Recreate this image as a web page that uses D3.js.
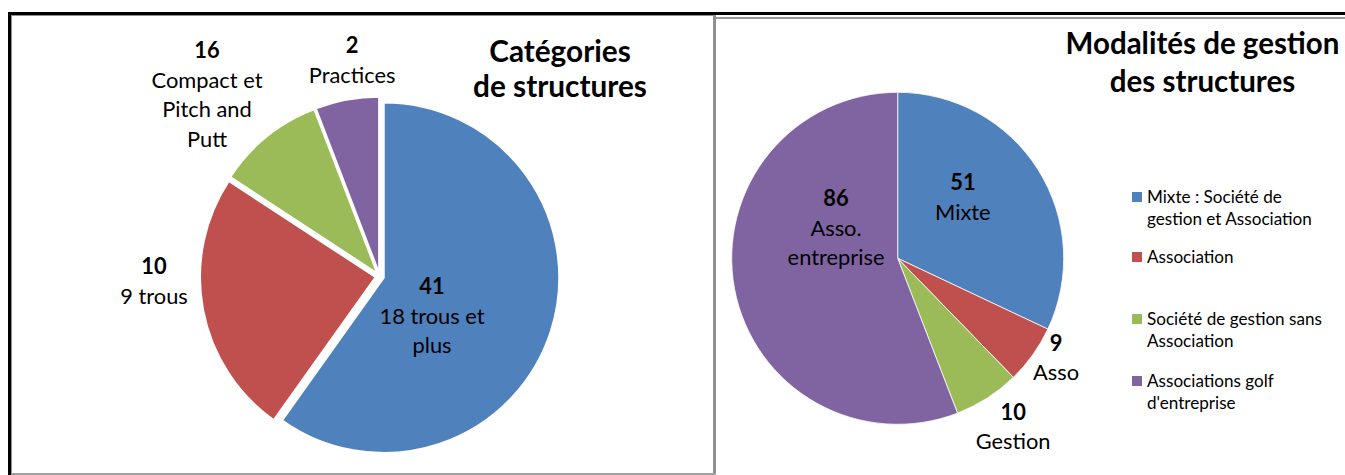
<!DOCTYPE html>
<html><head><meta charset="utf-8">
<script src="https://cdn.jsdelivr.net/npm/d3@7"></script>
<style>
body{margin:0;background:#fff;overflow:hidden}
text{font-family:Lato,"Open Sans",sans-serif;fill:#000}
</style>
</head><body>
<svg id="c" width="1345" height="475"></svg>
<script>
// ---------- DATA ----------
const leftTitle = ["Catégories", "de structures"];
const leftCategories = ["18 trous et plus", "9 trous", "Compact et Pitch and Putt", "Practices"];
const leftValues = [41, 16.7, 6.8, 4];            // slice sizes as drawn
const leftLabelNumbers = ["41", "10", "16", "2"]; // numbers printed on the labels
const leftLabelLines = [["18 trous et", "plus"], ["9 trous"], ["Compact et", "Pitch and", "Putt"], ["Practices"]];

const rightTitle = ["Modalités de gestion", "des structures"];
const rightCategories = ["Mixte : Société de gestion et Association", "Association", "Société de gestion sans Association", "Associations golf d'entreprise"];
const rightValues = [51, 9.1, 10.2, 89];          // slice sizes as drawn
const rightLabelNumbers = ["51", "9", "10", "86"];
const rightLabelLines = [["Mixte"], ["Asso"], ["Gestion"], ["Asso.", "entreprise"]];
const legendLines = [["Mixte : Société de", "gestion et Association"], ["Association"], ["Société de gestion sans", "Association"], ["Associations golf", "d'entreprise"]];

const colors = ["#4F81BD", "#C0504D", "#9BBB59", "#8064A2"];

// ---------- LAYOUT ----------
const svg = d3.select("#c");

function fitSize(str, weight, target) {
  const t = svg.append("text").attr("font-size", 100).attr("font-weight", weight).text(str);
  const w = t.node().getComputedTextLength();
  t.remove();
  return 100 * target / w;
}
const titleSizeL = fitSize("de structures", "bold", 174);
const titleSizeR = fitSize("Modalités de gestion", "bold", 274);
const labelSize = fitSize("Compact et", "normal", 111);
const legendSize = fitSize("gestion et Association", "normal", 165);

// frames
const grey = "#8f8f8f";
svg.append("line").attr("x1", 11.5).attr("x2", 11.5).attr("y1", 15).attr("y2", 475).attr("stroke", grey).attr("stroke-width", 1);
svg.append("line").attr("x1", 11).attr("x2", 716).attr("y1", 15.5).attr("y2", 15.5).attr("stroke", grey).attr("stroke-width", 1);
svg.append("rect").attr("x", 713).attr("y", 15).attr("width", 3).attr("height", 460).attr("fill", grey);
svg.append("rect").attr("x", 11).attr("y", 473).attr("width", 705).attr("height", 2).attr("fill", "#a0a0a0");
svg.append("rect").attr("x", 716).attr("y", 17).attr("width", 629).attr("height", 2).attr("fill", "#9a9a9a");
svg.append("rect").attr("x", 8).attr("y", 12).attr("width", 1337).attr("height", 3).attr("fill", "#000");
svg.append("rect").attr("x", 8).attr("y", 12).attr("width", 3).attr("height", 463).attr("fill", "#000");

function drawPie(opts) {
  const {cx, cy, R, values, explode, stroke, labelPolar, numbers, lines} = opts;
  const pie = d3.pie().sort(null).startAngle(0).endAngle(2 * Math.PI);
  const arcs = pie(values);
  const arc = d3.arc().innerRadius(0).outerRadius(R);
  const g = svg.append("g").attr("transform", `translate(${cx},${cy})`);
  g.selectAll("path").data(arcs).join("path")
    .attr("d", arc)
    .attr("fill", (d, i) => colors[i])
    .attr("stroke", "#fff")
    .attr("stroke-width", stroke)
    .attr("stroke-linejoin", "miter")
    .attr("transform", d => {
      const m = (d.startAngle + d.endAngle) / 2;
      return `translate(${explode * Math.sin(m)},${-explode * Math.cos(m)})`;
    });
  const ls = 29.5;
  arcs.forEach((d, i) => {
    const [angDeg, rf] = labelPolar[i];
    const a = angDeg * Math.PI / 180;
    const x = rf * R * Math.sin(a), y = -rf * R * Math.cos(a);
    const rows = [numbers[i]].concat(lines[i]);
    const y0 = y - (rows.length - 1) / 2 * ls;
    const t = g.append("text").attr("text-anchor", "middle").attr("font-size", labelSize);
    rows.forEach((r, k) => {
      t.append("tspan").attr("x", x).attr("y", y0 + k * ls).attr("dy", "0.35em")
        .attr("font-weight", k === 0 ? "bold" : "normal").text(r);
    });
  });
}

drawPie({
  cx: 379.7, cy: 276.4, R: 175, values: leftValues, explode: 4.5, stroke: 1.5,
  labelPolar: [[127.1, 0.375], [268.8, 1.29], [316.4, 1.431], [352.7, 1.244]],
  numbers: leftLabelNumbers, lines: leftLabelLines
});
drawPie({
  cx: 897.7, cy: 258.3, R: 166, values: rightValues, explode: 0, stroke: 0.8,
  labelPolar: [[47.0, 0.537], [122.2, 1.127], [145.6, 1.231], [296.2, 0.414]],
  numbers: rightLabelNumbers, lines: rightLabelLines
});

function drawTitle(lines, x, ys, size) {
  const t = svg.append("text").attr("text-anchor", "middle").attr("font-weight", "bold").attr("font-size", size);
  lines.forEach((l, k) => t.append("tspan").attr("x", x).attr("y", ys[k]).text(l));
}
drawTitle(leftTitle, 560, [61.5, 96.5], titleSizeL);
drawTitle(rightTitle, 1202.5, [53.5, 92], titleSizeR);

const legendY = [197, 257, 319, 381];
const lg = svg.append("g");
rightCategories.forEach((c, i) => {
  lg.append("rect").attr("x", 1132).attr("y", legendY[i] - 5).attr("width", 10).attr("height", 10).attr("fill", colors[i]);
  const t = lg.append("text").attr("font-size", legendSize).attr("fill", "#1a1a1a");
  legendLines[i].forEach((l, k) => t.append("tspan").attr("x", 1147).attr("y", legendY[i] + k * 22).attr("dy", "0.35em").text(l));
});
</script>
</body></html>
